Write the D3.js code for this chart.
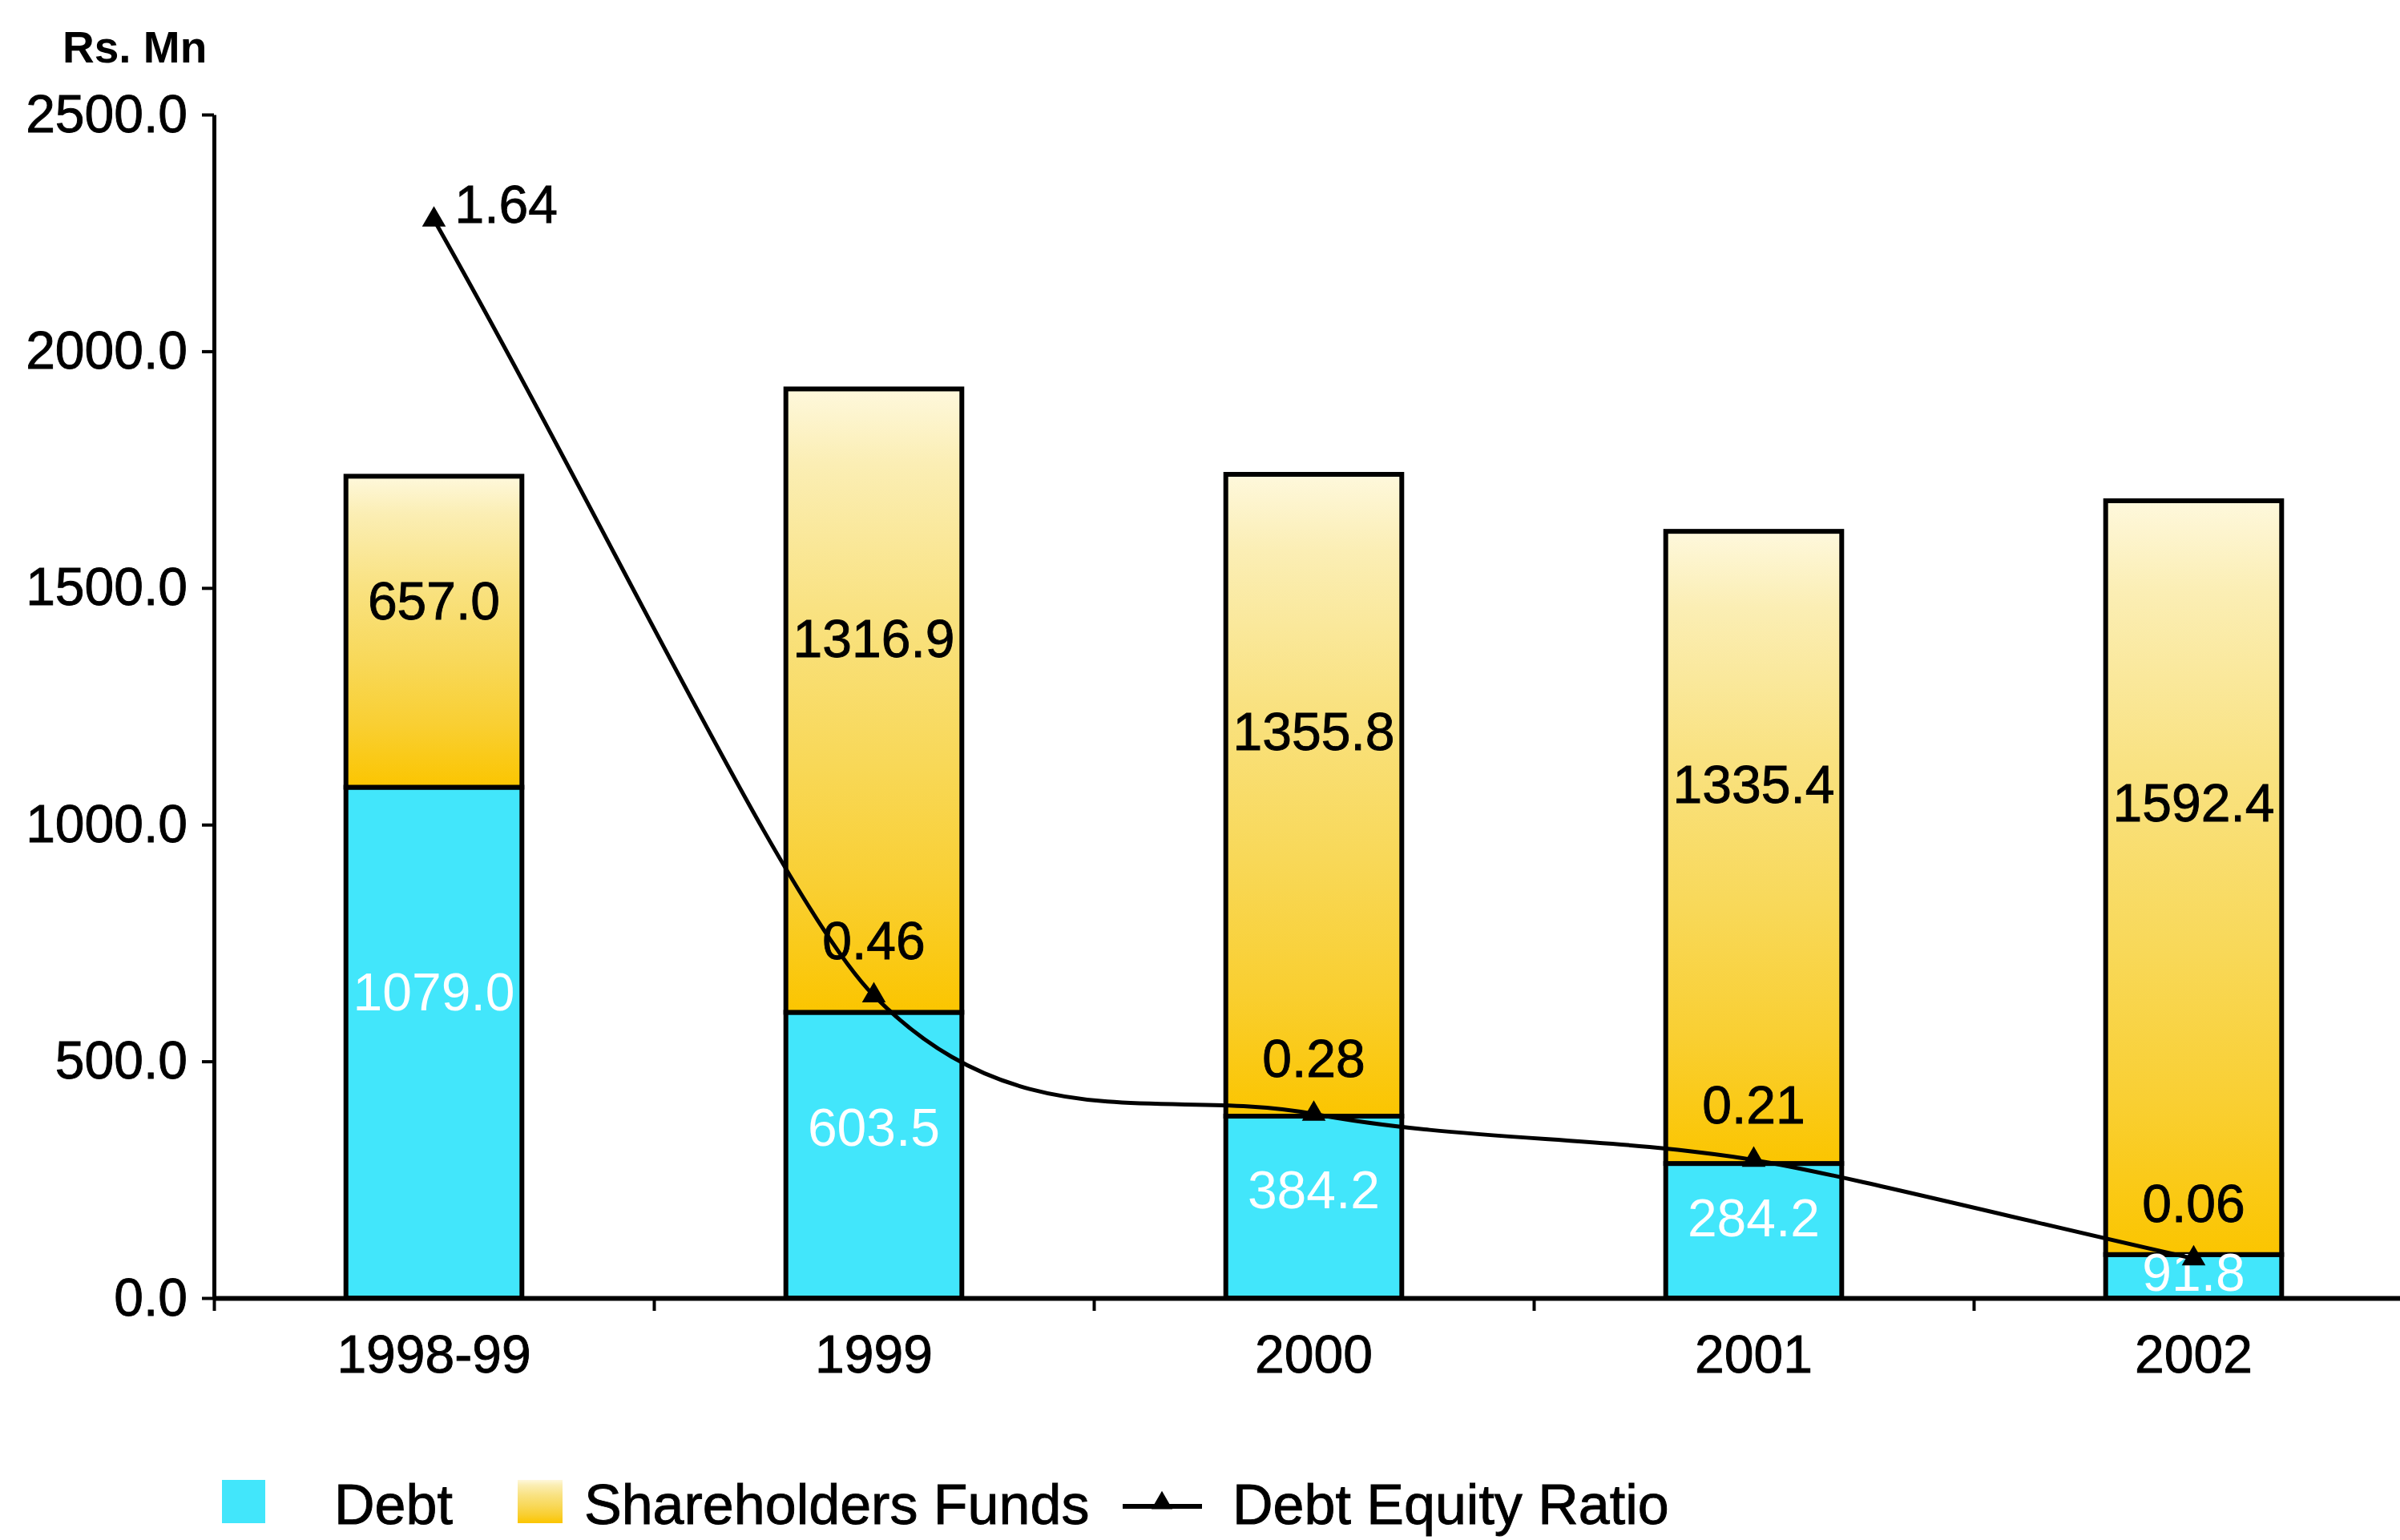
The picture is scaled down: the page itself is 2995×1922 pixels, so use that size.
<!DOCTYPE html>
<html>
<head>
<meta charset="utf-8">
<script src="https://cdn.jsdelivr.net/npm/d3@7"></script>
<style>
  html, body { margin: 0; padding: 0; background: #ffffff; }
  svg { display: block; }
  text { font-family: "Liberation Sans", Arial, Helvetica, sans-serif; }
</style>
</head>
<body>
<script>
// ---------------- data ----------------
const categories = ["1998-99", "1999", "2000", "2001", "2002"];
const debt = [1079.0, 603.5, 384.2, 284.2, 91.8];
const shareholdersFunds = [657.0, 1316.9, 1355.8, 1335.4, 1592.4];
const debtEquityRatio = [1.64, 0.46, 0.28, 0.21, 0.06];
const yTicks = [0, 500, 1000, 1500, 2000, 2500];
const yTickLabels = ["0.0", "500.0", "1000.0", "1500.0", "2000.0", "2500.0"];
const ratioAxisMax = 1.8;
const yAxisTitle = "Rs. Mn";
const legendLabels = ["Debt", "Shareholders Funds", "Debt Equity Ratio"];

// ---------------- layout ----------------
const W = 2995, H = 1922;
const left = 267, baseY = 1620, topY = 143, step = 549;
const FONT = 66;
const LABEL_FRAC = 0.6;
const TXT_STROKE = 0.9;

const svg = d3.select("body").append("svg")
  .attr("width", W).attr("height", H)
  .attr("viewBox", `0 0 ${W} ${H}`);

svg.append("rect").attr("width", W).attr("height", H).attr("fill", "#ffffff");

const defs = svg.append("defs");
const grad = defs.append("linearGradient").attr("id", "sfGrad")
  .attr("x1", 0).attr("y1", 0).attr("x2", 0).attr("y2", 1);
[["0%", "#FEF8DC"], ["12%", "#FBEEB4"], ["35%", "#F9E282"], ["60%", "#F8D858"], ["80%", "#F9CF32"], ["100%", "#FBC500"]]
  .forEach(([o, c]) => grad.append("stop").attr("offset", o).attr("stop-color", c));

const x = d3.scaleBand().domain(categories)
  .range([left, left + step * categories.length])
  .paddingInner(0.6).paddingOuter(0.3);
const y = d3.scaleLinear().domain([0, 2500]).range([baseY, topY]);
const y2 = d3.scaleLinear().domain([0, ratioAxisMax]).range([baseY, topY]);

const rows = categories.map((c, i) => ({
  cat: c, debt: debt[i], sf: shareholdersFunds[i], ratio: debtEquityRatio[i]
}));

// ---------------- bars ----------------
const STROKE = 6;
const barG = svg.append("g");
barG.selectAll("rect.debt").data(rows).join("rect")
  .attr("class", "debt")
  .attr("x", d => x(d.cat)).attr("width", x.bandwidth())
  .attr("y", d => y(d.debt)).attr("height", d => y(0) - y(d.debt))
  .attr("fill", "#42E6FB").attr("stroke", "#000").attr("stroke-width", STROKE);

barG.selectAll("rect.sf").data(rows).join("rect")
  .attr("class", "sf")
  .attr("x", d => x(d.cat)).attr("width", x.bandwidth())
  .attr("y", d => y(d.debt + d.sf)).attr("height", d => y(d.debt) - y(d.debt + d.sf))
  .attr("fill", "url(#sfGrad)").attr("stroke", "#000").attr("stroke-width", STROKE);

// ---------------- axes ----------------
const yAxis = d3.axisLeft(y).tickValues(yTicks)
  .tickFormat((d, i) => yTickLabels[i]).tickSize(15).tickSizeOuter(0).tickPadding(18);
const gy = svg.append("g").attr("transform", `translate(${left},0)`).call(yAxis);
gy.select(".domain").attr("stroke", "#000").attr("stroke-width", 5);
gy.selectAll(".tick line").attr("stroke", "#000").attr("stroke-width", 4);
gy.selectAll(".tick text").attr("font-size", FONT).attr("fill", "#000")
  .attr("stroke", "#000").attr("stroke-width", TXT_STROKE)
  .attr("font-family", "Liberation Sans, Arial, sans-serif");

// x axis: ticks at category boundaries, labels at centres
const xb = d3.scaleLinear().domain([0, categories.length]).range([left, left + step * categories.length]);
const gx = svg.append("g").attr("transform", `translate(0,${baseY})`)
  .call(d3.axisBottom(xb).tickValues(d3.range(categories.length + 1)).tickFormat("").tickSize(16).tickSizeOuter(0));
gx.select(".domain").attr("stroke", "#000").attr("stroke-width", 6);
gx.selectAll(".tick line").attr("stroke", "#000").attr("stroke-width", 4);

const gxl = svg.append("g").attr("transform", `translate(0,${baseY})`)
  .call(d3.axisBottom(x).tickSize(0).tickPadding(46));
gxl.select(".domain").remove();
gxl.selectAll(".tick text").attr("font-size", FONT).attr("fill", "#000")
  .attr("stroke", "#000").attr("stroke-width", TXT_STROKE)
  .attr("font-family", "Liberation Sans, Arial, sans-serif");

// axis title
svg.append("text").attr("x", 78).attr("y", 78)
  .attr("font-size", 55).attr("font-weight", "bold").text(yAxisTitle);

// ---------------- bar labels ----------------
const cx = d => x(d.cat) + x.bandwidth() / 2;
svg.append("g").selectAll("text").data(rows).join("text")
  .attr("x", cx).attr("y", d => y(d.debt * LABEL_FRAC))
  .attr("dy", "0.36em").attr("text-anchor", "middle")
  .attr("font-size", FONT).attr("fill", "#ffffff")
  .text(d => d.debt.toFixed(1));

svg.append("g").selectAll("text").data(rows).join("text")
  .attr("x", cx).attr("y", d => y(d.debt + d.sf * LABEL_FRAC))
  .attr("dy", "0.36em").attr("text-anchor", "middle")
  .attr("font-size", FONT).attr("fill", "#000")
  .attr("stroke", "#000").attr("stroke-width", TXT_STROKE)
  .text(d => d.sf.toFixed(1));

// ---------------- ratio line (Excel-like smoothing) ----------------
function ExcelSmooth(context) { this._context = context; }
ExcelSmooth.prototype = {
  areaStart() {}, areaEnd() {},
  lineStart() { this._p = []; },
  point(px, py) { this._p.push([+px, +py]); },
  lineEnd() {
    const p = this._p, n = p.length, c = this._context;
    if (!n) return;
    c.moveTo(p[0][0], p[0][1]);
    if (n === 2) { c.lineTo(p[1][0], p[1][1]); return; }
    const END = 0.4, NEAR = 0.6, K = 1 / 6;
    for (let i = 0; i < n - 1; i++) {
      const a = p[i], b = p[i + 1];
      let c1, c2;
      if (i === 0) c1 = [a[0] + END * (b[0] - a[0]), a[1] + END * (b[1] - a[1])];
      else {
        const s = (i === n - 2) ? K * NEAR : K;
        c1 = [a[0] + s * (b[0] - p[i - 1][0]), a[1] + s * (b[1] - p[i - 1][1])];
      }
      if (i === n - 2) c2 = [b[0] - END * (b[0] - a[0]), b[1] - END * (b[1] - a[1])];
      else {
        const s = (i === 0) ? K * NEAR : K;
        c2 = [b[0] - s * (p[i + 2][0] - a[0]), b[1] - s * (p[i + 2][1] - a[1])];
      }
      c.bezierCurveTo(c1[0], c1[1], c2[0], c2[1], b[0], b[1]);
    }
  }
};
const excelCurve = ctx => new ExcelSmooth(ctx);

const line = d3.line().x(cx).y(d => y2(d.ratio)).curve(excelCurve);
svg.append("path").datum(rows).attr("d", line)
  .attr("fill", "none").attr("stroke", "#000").attr("stroke-width", 5);

const tri = d3.symbol().type(d3.symbolTriangle).size(380);
svg.append("g").selectAll("path").data(rows).join("path")
  .attr("d", tri).attr("fill", "#000")
  .attr("transform", d => `translate(${cx(d)},${y2(d.ratio)})`);

svg.append("g").selectAll("text").data(rows).join("text")
  .attr("x", (d, i) => i === 0 ? cx(d) + 26 : cx(d))
  .attr("y", (d, i) => i === 0 ? y2(d.ratio) + 4 : y2(d.ratio) - 46)
  .attr("text-anchor", (d, i) => i === 0 ? "start" : "middle")
  .attr("font-size", FONT).attr("fill", "#000")
  .attr("stroke", "#000").attr("stroke-width", TXT_STROKE)
  .text(d => d.ratio.toFixed(2));

// ---------------- legend ----------------
const lg = svg.append("g");
const legY = 1902;
lg.append("rect").attr("x", 277).attr("y", 1847).attr("width", 54).attr("height", 54).attr("fill", "#42E6FB");
lg.append("text").attr("x", 417).attr("y", legY).attr("font-size", 70)
  .attr("stroke", "#000").attr("stroke-width", TXT_STROKE).text(legendLabels[0]);
lg.append("rect").attr("x", 646).attr("y", 1847).attr("width", 56).attr("height", 54).attr("fill", "url(#sfGrad)");
lg.append("text").attr("x", 729).attr("y", legY).attr("font-size", 70)
  .attr("stroke", "#000").attr("stroke-width", TXT_STROKE).text(legendLabels[1]);
lg.append("line").attr("x1", 1401).attr("x2", 1500).attr("y1", 1880).attr("y2", 1880)
  .attr("stroke", "#000").attr("stroke-width", 6);
lg.append("path").attr("d", d3.symbol().type(d3.symbolTriangle).size(300))
  .attr("transform", "translate(1450,1876)").attr("fill", "#000");
lg.append("text").attr("x", 1538).attr("y", legY).attr("font-size", 70)
  .attr("stroke", "#000").attr("stroke-width", TXT_STROKE).text(legendLabels[2]);
</script>
</body>
</html>
